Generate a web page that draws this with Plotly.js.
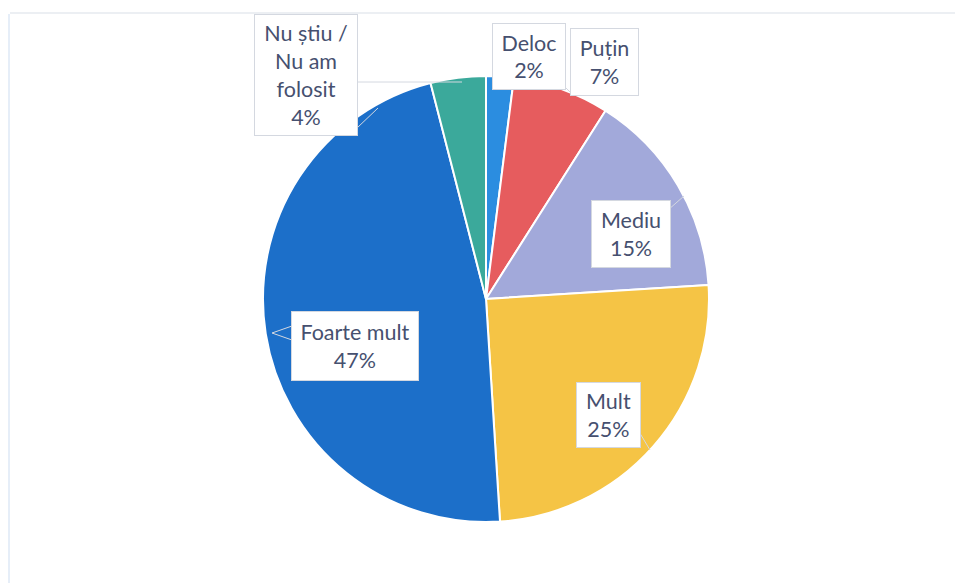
<!DOCTYPE html>
<html>
<head>
<meta charset="utf-8">
<script src="https://cdn.plot.ly/plotly-3.0.1.min.js"></script>
<style>html,body{margin:0;padding:0;background:#fff;}#chart{width:955px;height:583px;}</style>
</head>
<body>
<div id="chart"></div>
<script>
const categories = ["Deloc", "Puțin", "Mediu", "Mult", "Foarte mult", "Nu știu / Nu am folosit"];
const values = [2, 7, 15, 25, 47, 4];
const labelTexts = ["Deloc<br>2%", "Puțin<br>7%", "Mediu<br>15%", "Mult<br>25%", "Foarte mult<br>47%", "Nu știu /<br>Nu am<br>folosit<br>4%"];
const colors = ["#2B8DE0", "#E65C5E", "#A2A9DA", "#F5C445", "#1C6FC9", "#3BA99B"];

const font = {family: "Lato, 'Open Sans', sans-serif", size: 21.5, color: "#46506f"};
const W = 955, H = 583, ml = 263, mr = 246, mt = 76, mb = 61;
const pw = W - ml - mr, ph = H - mt - mb;
function px(x) { return (x - ml) / pw; }
function py(y) { return (H - mb - y) / ph; }

const data = [{
  type: "pie",
  labels: categories,
  values: values,
  marker: {colors: colors, line: {color: "#ffffff", width: 2}},
  sort: false,
  direction: "clockwise",
  rotation: 0,
  textinfo: "none",
  hoverinfo: "label+percent",
  showlegend: false,
  domain: {x: [0, 1], y: [0, 1]}
}];

// label box centre and size (pixels)
const boxes = [[529, 57, 72, 65], [604, 62, 67, 66], [631, 234, 78, 66], [608, 415, 63, 64], [355, 346, 126, 68], [306, 75, 102, 120]];
const annotations = boxes.map((b, i) => ({
  xref: "paper", yref: "paper", x: px(b[0]), y: py(b[1]),
  xanchor: "center", yanchor: "middle", align: "center", valign: "middle",
  width: b[2], height: b[3],
  text: labelTexts[i], showarrow: false, font: font,
  bgcolor: "#ffffff", bordercolor: "#d4d8e0", borderwidth: 1, borderpad: 0
}));

const lc = "#d4d8e0";
function seg(x0, y0, x1, y1, c, w) {
  return {type: "line", xref: "paper", yref: "paper", x0: px(x0), x1: px(x1), y0: py(y0), y1: py(y1), line: {color: c || lc, width: w || 1}};
}
const shapes = [
  seg(10, 13, 955, 13, "#eceff3", 2),
  seg(9, 14, 9, 583, "#e6eef8", 2),
  seg(357, 82, 462, 82),
  seg(357, 128, 378, 108),
  seg(566, 88, 572, 94),
  seg(668, 210, 684, 196),
  seg(638, 430, 650, 450),
  seg(292, 326, 272, 333),
  seg(272, 333, 292, 340)
];

const layout = {
  width: W, height: H,
  margin: {l: ml, r: mr, t: mt, b: mb},
  paper_bgcolor: "#ffffff",
  plot_bgcolor: "#ffffff",
  showlegend: false,
  annotations: annotations,
  shapes: shapes
};
Plotly.newPlot("chart", data, layout, {displayModeBar: false, staticPlot: true});
</script>
</body>
</html>
